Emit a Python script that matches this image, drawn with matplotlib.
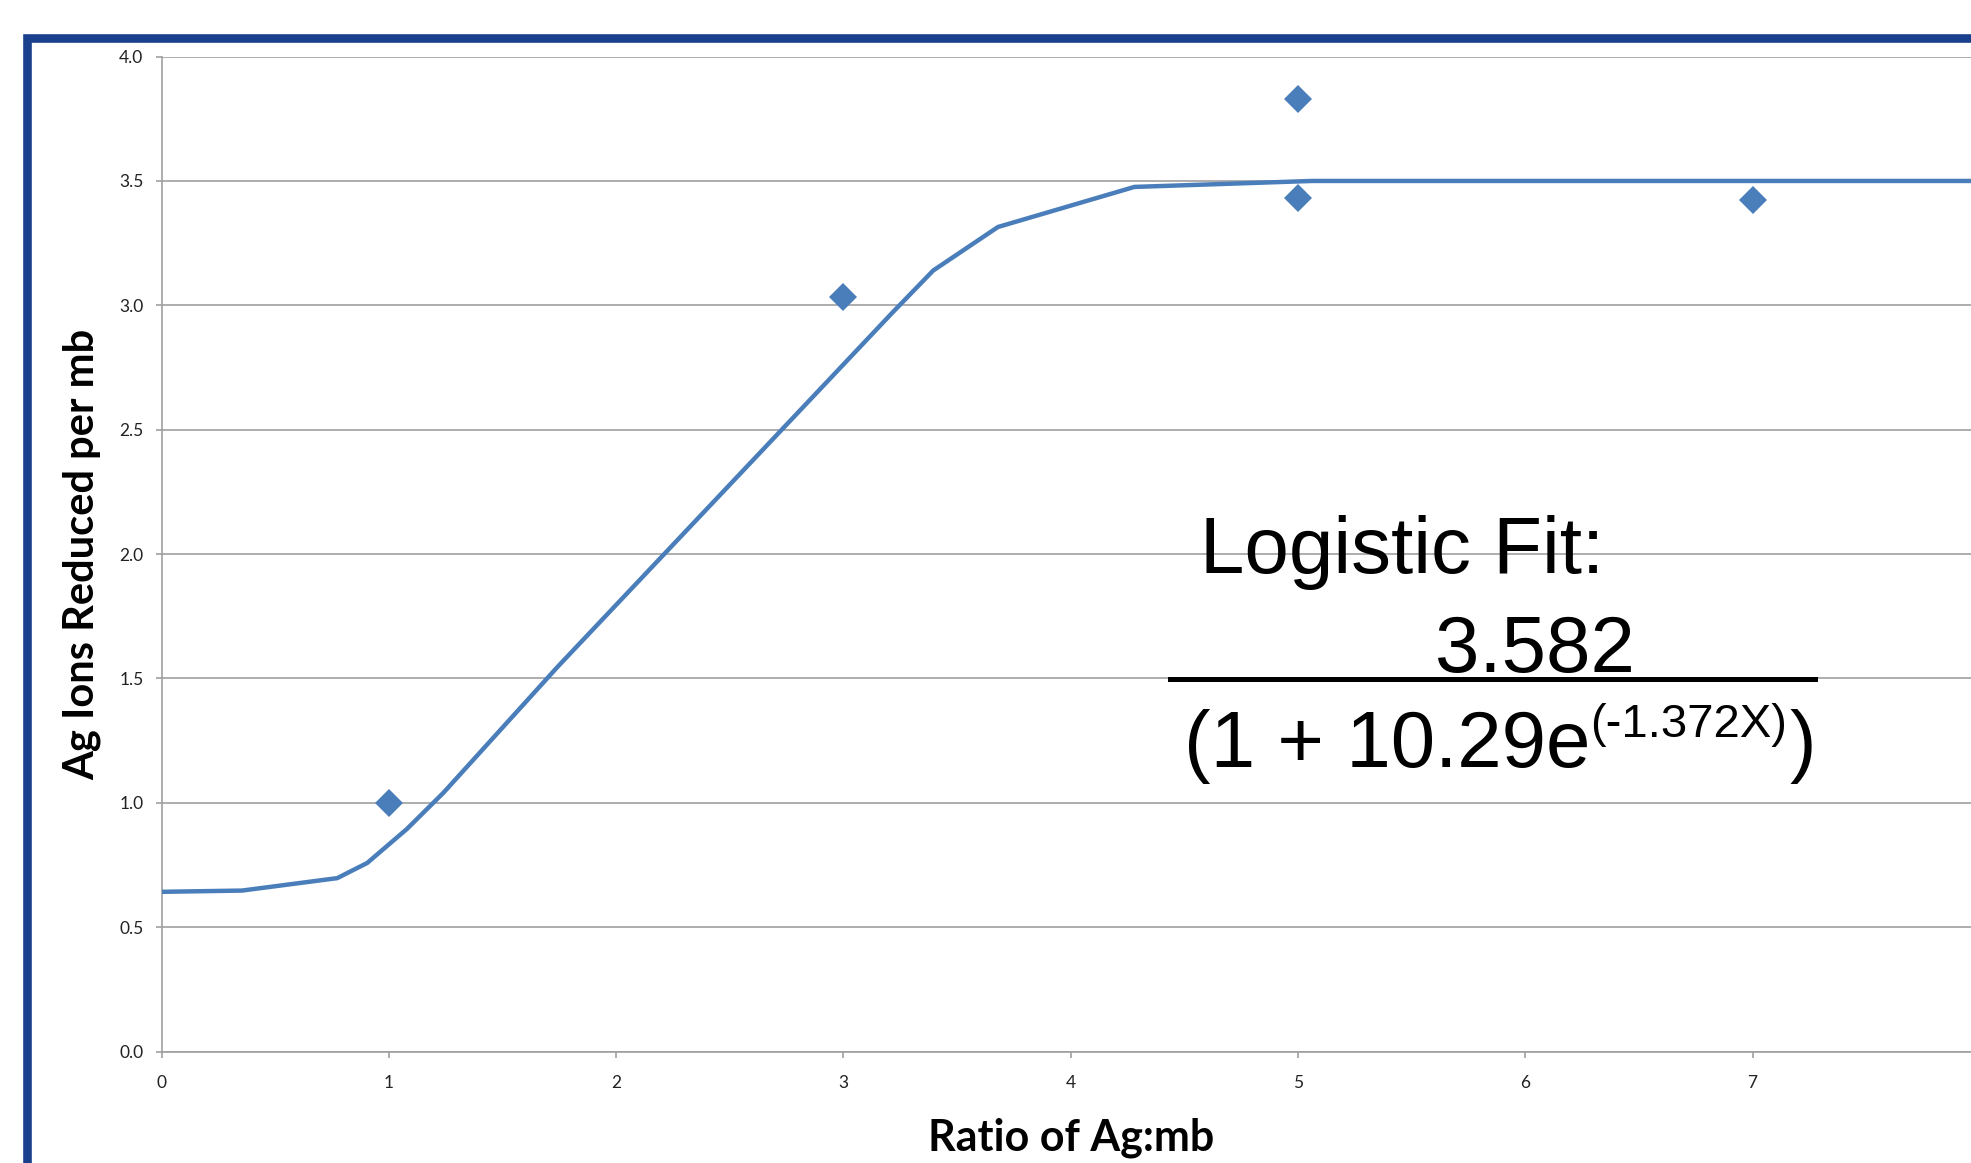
import numpy as np
import matplotlib
matplotlib.use('Agg')
import matplotlib.pyplot as plt
from matplotlib.patches import Rectangle
from matplotlib.lines import Line2D

# measured points
x_meas = [1, 3, 5, 5, 7]
y_meas = [1.0, 3.035, 3.83, 3.43, 3.425]

# fitted curve as drawn (polyline vertices)
x_fit = [0, 0.354, 0.773, 0.905, 1.08, 1.24, 1.743, 3.22, 3.395, 3.68, 4.28, 5.06, 8.0]
y_fit = [0.642, 0.647, 0.697, 0.758, 0.895, 1.04, 1.547, 2.975, 3.14, 3.315, 3.476, 3.50, 3.50]

x_ticks = list(range(8))
y_ticks = [0.0, 0.5, 1.0, 1.5, 2.0, 2.5, 3.0, 3.5, 4.0]

W, H = 1971, 1163
blue = '#4a7ebb'
grid_c = '#a0a0a0'

fig = plt.figure(figsize=(W / 100, H / 100), dpi=100)
fig.patch.set_facecolor('white')

def fx(px):
	return px / W

def fy(py):
	return 1 - py / H

ax = fig.add_axes([fx(161.5), fy(1051.5), (1980 - 161.5) / W, (1051.5 - 56.6) / H])

ax.plot(x_fit, y_fit, color=blue, linewidth=3.2, solid_joinstyle='miter', zorder=3)
ax.plot(x_meas, y_meas, linestyle='none', marker='D', markersize=14, color=blue,
		markeredgewidth=0, zorder=4)

ax.set_xlim(0, 8)
ax.set_ylim(0, 4)
ax.set_xticks(x_ticks)
ax.set_yticks(y_ticks)
ax.set_yticklabels(['%.1f' % v for v in y_ticks])
ax.grid(axis='y', color=grid_c, linewidth=1.2)
ax.set_axisbelow(True)

for s in ['top', 'right']:
	ax.spines[s].set_visible(False)
for s in ['left', 'bottom']:
	ax.spines[s].set_color(grid_c)
	ax.spines[s].set_linewidth(1.2)

ax.tick_params(axis='both', colors=grid_c, width=1.2, length=4, direction='out',
			   labelcolor='#222222', labelsize=12.5)
ax.tick_params(axis='y', pad=9)
ax.tick_params(axis='x', pad=13)
for lab in ax.get_xticklabels() + ax.get_yticklabels():
	lab.set_family('Lato')

ax.set_xlabel('Ratio of Ag:mb', fontsize=31, fontweight='bold', family='Lato')
ax.set_ylabel('Ag Ions Reduced per mb', fontsize=30, fontweight='bold', family='Lato')
ax.xaxis.set_label_coords(0.5, (1051.5 - 1150) / (1051.5 - 56.6))
ax.xaxis.label.set_va('baseline')
ax.yaxis.set_label_coords((82 - 161.5) / (1980 - 161.5), 0.5)
ax.yaxis.label.set_va('center')

# fit equation
tf = 'Liberation Sans'
fig.text(fx(1200), fy(573), 'Logistic Fit:', fontsize=57.5, family=tf, va='baseline', ha='left')
fig.text(fx(1435), fy(672), '3.582', fontsize=57.5, family=tf, va='baseline', ha='left')
fig.lines.append(Line2D([fx(1170), fx(1815)], [fy(679), fy(679)], color='black',
						linewidth=3.6, transform=fig.transFigure))
fig.text(fx(1184), fy(767), '(1 + 10.29e', fontsize=57.5, family=tf, va='baseline', ha='left')
fig.text(fx(1590), fy(737), '(-1.372X)', fontsize=34, family=tf, va='baseline', ha='left')
fig.text(fx(1789), fy(767), ')', fontsize=57.5, family=tf, va='baseline', ha='left')

# dark blue frame (cut off at right and bottom)
fig.patches.append(Rectangle((fx(27), fy(1300)), fx(2100), 1300 / H - 38.5 / H,
							 fill=False, edgecolor='#1a3f8c', linewidth=6.2,
							 transform=fig.transFigure))

fig.savefig('out.png', dpi=100)
